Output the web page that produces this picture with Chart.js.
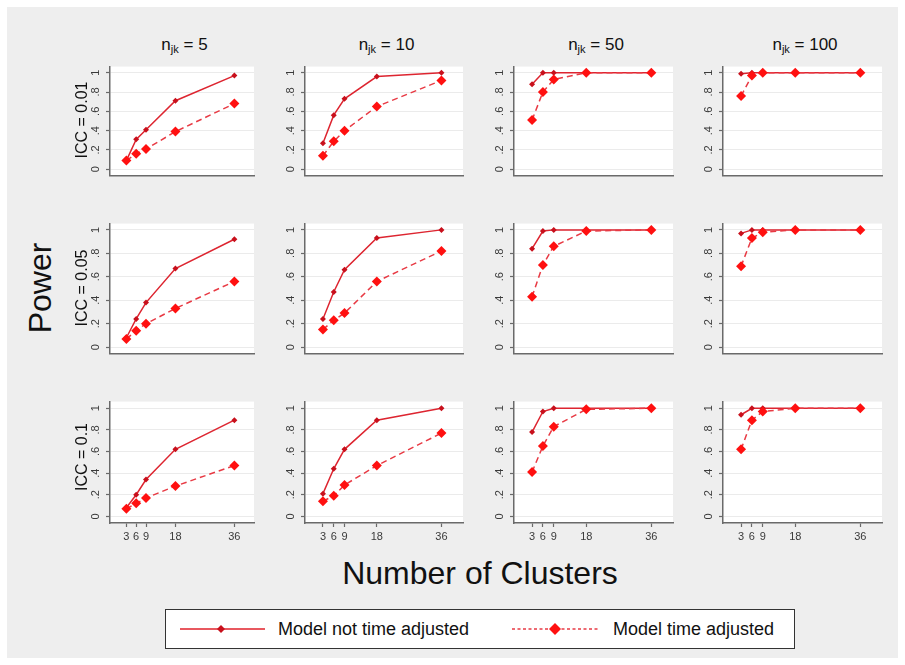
<!DOCTYPE html>
<html>
<head>
<meta charset="utf-8">
<script src="https://cdn.jsdelivr.net/npm/chart.js@4.4.1/dist/chart.umd.min.js"></script>
<style>
  body { margin: 0; background: #ffffff; font-family: 'Liberation Sans', Arial, sans-serif; }
  #frame { position: absolute; left: 7px; top: 7px; width: 891px; height: 651px; background: #eeeeee; }
  canvas { position: absolute; }
  .lbl { position: absolute; white-space: nowrap; color: #111; transform: translate(-50%, -50%); }
  .rot { transform: translate(-50%, -50%) rotate(-90deg); }
  .coltitle { font-size: 17px; }
  .coltitle sub { font-size: 11px; vertical-align: -3px; }
  .rowtitle { font-size: 16px; }
  .big { font-size: 32px; }
  #legend { position: absolute; left: 165px; top: 609px; width: 630px; height: 40px; background: #fff; border: 1.5px solid #333; box-sizing: border-box; }
  #legend svg { position: absolute; top: 0; }
  #legend span { position: absolute; top: 50%; transform: translateY(-50%); font-size: 18px; color: #111; white-space: nowrap; }
</style>
</head>
<body>
<div id="frame"></div>
<div id="legend">
  <svg style="left:13px" width="88" height="38">
    <line x1="1" y1="19" x2="86" y2="19" stroke="#e0202a" stroke-width="1.5"/>
    <polygon points="42,15 46,19 42,23 38,19" fill="#c8101c"/>
  </svg>
  <span style="left:112px">Model not time adjusted</span>
  <svg style="left:345px" width="90" height="38">
    <line x1="1" y1="19" x2="88" y2="19" stroke="#e83a44" stroke-width="1.5" stroke-dasharray="3,2.5"/>
    <polygon points="44,13 50,19 44,25 38,19" fill="#ff1010"/>
  </svg>
  <span style="left:447px">Model time adjusted</span>
</div>
<script>
// Number of clusters (x) and tick labels
const clusters = [3, 6, 9, 18, 36];
const clusterLabels = ['3', '6', '9', '18', '36'];
const yTicks = [0, 0.2, 0.4, 0.6, 0.8, 1];
const yTickLabels = ['0', '.2', '.4', '.6', '.8', '1'];
const clusterSizes = ['5', '10', '50', '100'];
const iccLabels = ['0.01', '0.05', '0.1'];

// power, one row per n_jk (5, 10, 50, 100)
const notAdjIcc001 = [
  [0.09, 0.31, 0.41, 0.71, 0.97],
  [0.27, 0.56, 0.73, 0.96, 1.00],
  [0.88, 1.00, 1.00, 1.00, 1.00],
  [0.99, 1.00, 1.00, 1.00, 1.00]
];
const adjIcc001 = [
  [0.09, 0.16, 0.21, 0.39, 0.68],
  [0.14, 0.29, 0.40, 0.65, 0.92],
  [0.51, 0.80, 0.93, 1.00, 1.00],
  [0.76, 0.97, 1.00, 1.00, 1.00]
];
const notAdjIcc005 = [
  [0.08, 0.24, 0.38, 0.67, 0.92],
  [0.24, 0.47, 0.66, 0.93, 1.00],
  [0.84, 0.99, 1.00, 1.00, 1.00],
  [0.97, 1.00, 1.00, 1.00, 1.00]
];
const adjIcc005 = [
  [0.07, 0.14, 0.20, 0.33, 0.56],
  [0.15, 0.23, 0.29, 0.56, 0.82],
  [0.43, 0.70, 0.86, 0.99, 1.00],
  [0.69, 0.93, 0.98, 1.00, 1.00]
];
const notAdjIcc01 = [
  [0.08, 0.20, 0.34, 0.62, 0.89],
  [0.21, 0.44, 0.62, 0.89, 1.00],
  [0.78, 0.97, 1.00, 1.00, 1.00],
  [0.94, 1.00, 1.00, 1.00, 1.00]
];
const adjIcc01 = [
  [0.07, 0.12, 0.17, 0.28, 0.47],
  [0.14, 0.19, 0.29, 0.47, 0.77],
  [0.41, 0.65, 0.83, 0.99, 1.00],
  [0.62, 0.89, 0.97, 1.00, 1.00]
];
const notAdjusted = [notAdjIcc001, notAdjIcc005, notAdjIcc01];
const adjusted = [adjIcc001, adjIcc005, adjIcc01];

// panel layout (page pixels)
const colLeft = [110, 305, 514, 723];
const colRight = [259, 468, 678, 887];
const rowTop = [55, 212, 390];
const rowBottom = [185, 363, 523];
const yAxisW = 34;
const axisColor = '#6a6a6a';
const tickColor = '#3a3a3a';

Chart.defaults.font.family = "'Liberation Sans', Arial, sans-serif";

// white plot region like Stata's
const plotBg = {
  id: 'plotBg',
  beforeDraw(chart) {
    const a = chart.chartArea;
    chart.ctx.save();
    chart.ctx.fillStyle = '#ffffff';
    chart.ctx.fillRect(a.left, a.top, a.right - a.left, a.bottom - a.top);
    chart.ctx.restore();
  }
};

function addLabel(html, cx, cy, cls) {
  const d = document.createElement('div');
  d.className = 'lbl ' + cls;
  d.innerHTML = html;
  d.style.left = cx + 'px';
  d.style.top = cy + 'px';
  document.body.appendChild(d);
}

function makePanel(r, c) {
  const plotW = colRight[c] - colLeft[c];
  const plotH = rowBottom[r] - rowTop[r];
  const showX = r === 2;
  const xAxisH = showX ? 24 : 2;
  const pad = 7.3 / (plotH - 14.6);

  const cv = document.createElement('canvas');
  cv.width = plotW + yAxisW;
  cv.height = plotH + xAxisH;
  cv.style.left = (colLeft[c] - yAxisW) + 'px';
  cv.style.top = rowTop[r] + 'px';
  document.body.appendChild(cv);

  new Chart(cv, {
    type: 'line',
    data: {
      datasets: [{
        label: 'Model not time adjusted',
        data: clusters.map((x, i) => ({ x: x, y: notAdjusted[r][c][i] })),
        borderColor: '#dd2530',
        borderWidth: 1.5,
        pointStyle: 'rectRot',
        pointRadius: 3,
        pointBackgroundColor: '#c8101c',
        pointBorderWidth: 0,
        order: 1
      }, {
        label: 'Model time adjusted',
        data: clusters.map((x, i) => ({ x: x, y: adjusted[r][c][i] })),
        borderColor: '#e83a44',
        borderWidth: 1.5,
        borderDash: [6, 4],
        pointStyle: 'rectRot',
        pointRadius: 5,
        pointBackgroundColor: '#ff1010',
        pointBorderWidth: 0,
        order: 0
      }]
    },
    options: {
      responsive: false,
      animation: false,
      devicePixelRatio: 1,
      layout: { padding: 0 },
      plugins: { legend: { display: false }, tooltip: { enabled: false } },
      scales: {
        x: {
          type: 'linear',
          min: -2,
          max: 42,
          afterBuildTicks: s => { s.ticks = clusters.map(v => ({ value: v })); },
          afterFit: s => { s.height = xAxisH; },
          grid: { drawOnChartArea: false, drawTicks: showX, tickLength: 4, tickColor: axisColor, tickWidth: 1.2 },
          border: { color: axisColor, width: 1.5 },
          ticks: {
            display: showX,
            autoSkip: false,
            maxRotation: 0,
            padding: 3,
            color: tickColor,
            font: { size: 11 },
            callback: v => clusterLabels[clusters.indexOf(v)]
          }
        },
        y: {
          min: -pad,
          max: 1 + pad,
          afterBuildTicks: s => { s.ticks = yTicks.map(v => ({ value: v })); },
          afterFit: s => { s.width = yAxisW; },
          grid: { color: '#ebebeb', lineWidth: 1, tickLength: 4, tickColor: axisColor, tickWidth: 1.2 },
          border: { color: axisColor, width: 1.5 },
          ticks: {
            minRotation: 90,
            maxRotation: 90,
            crossAlign: 'center',
            padding: 5,
            color: tickColor,
            font: { size: 11 },
            callback: v => yTickLabels[yTicks.indexOf(v)]
          }
        }
      }
    },
    plugins: [plotBg]
  });
}

for (let r = 0; r < 3; r++) {
  for (let c = 0; c < 4; c++) makePanel(r, c);
}

clusterSizes.forEach((n, c) => {
  addLabel('n<sub>jk</sub> = ' + n, (colLeft[c] + colRight[c]) / 2, 45, 'coltitle');
});
iccLabels.forEach((icc, r) => {
  addLabel('ICC = ' + icc, 82, (rowTop[r] + rowBottom[r]) / 2, 'rowtitle rot');
});
addLabel('Power', 40, 288, 'big rot');
addLabel('Number of Clusters', 480, 573, 'big');
</script>
</body>
</html>
